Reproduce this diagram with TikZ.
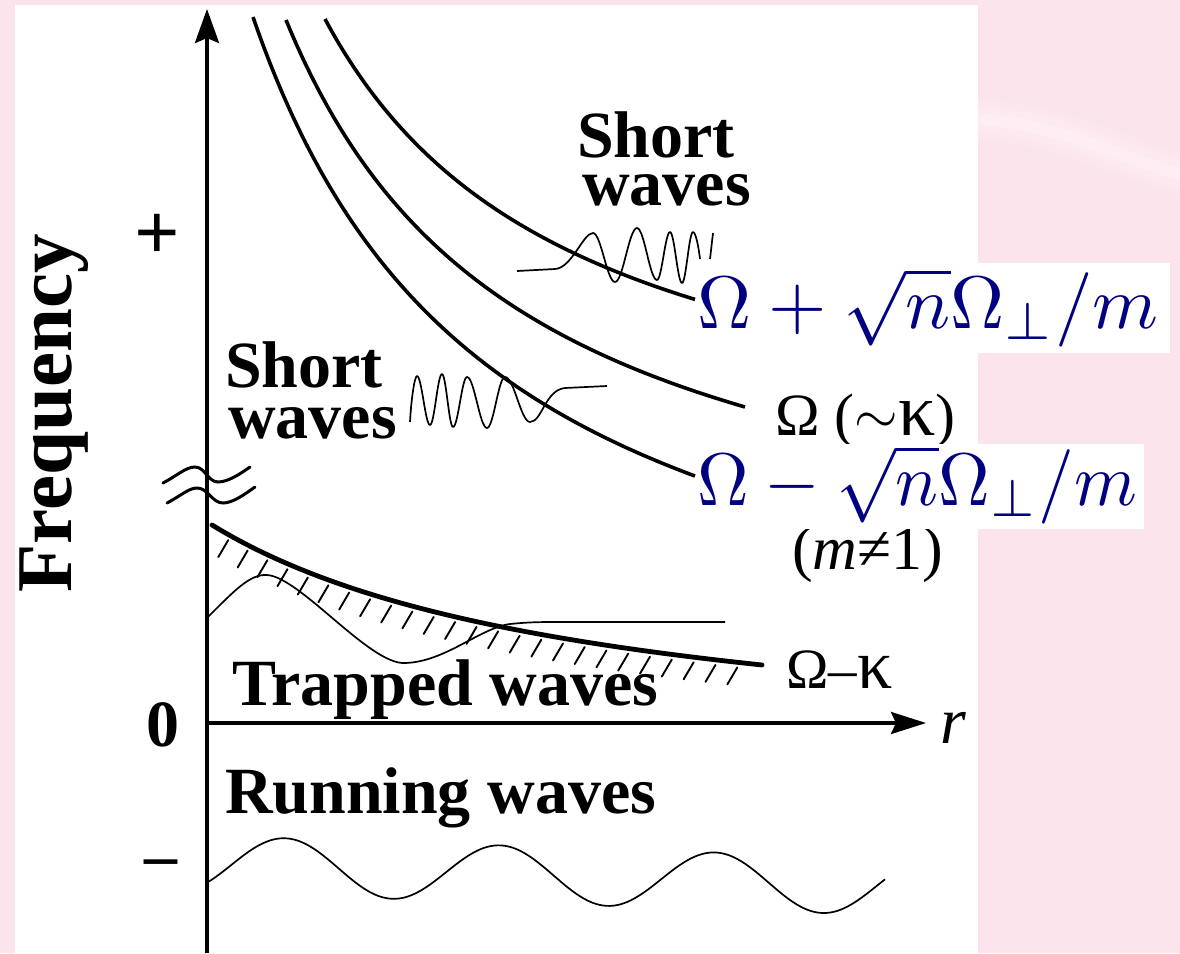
\documentclass[tikz,border=0pt]{standalone}
\usepackage{graphicx}
\usepackage{fontspec}
\setmainfont{Liberation Serif}
\usetikzlibrary{arrows.meta,decorations.markings}
\definecolor{pinkbg}{RGB}{252,228,236}
\definecolor{navyblue}{RGB}{0,0,128}
\tikzset{
  axisline/.style={line width=4pt},
  curveline/.style={line width=3.6pt},
  waveline/.style={line width=1.7pt, line join=round},
  breakline/.style={line width=3pt, line cap=round},
  boldlabel/.style={inner sep=0pt, font=\fontsize{66}{66}\selectfont\bfseries},
  plainlabel/.style={inner sep=0pt, font=\fontsize{60}{60}\selectfont},
  bluemath/.style={inner sep=0pt, text=navyblue},
  hatched/.style={postaction={decorate, decoration={markings,
     mark=between positions 20pt and -6pt step 22pt with {\pgftransformresetnontranslations
       \draw[line width=1.9pt] (-1,5) -- (-11,22);}}}},
}
\begin{document}
\begin{tikzpicture}[x=1pt,y=-1pt]
\useasboundingbox (0,0) rectangle (1180,953);
\fill[pinkbg] (0,0) rectangle (1180,953);
\foreach \w/\o in {40/0.12, 26/0.15, 12/0.2}{
  \draw[white, opacity=\o, line width=\w pt, line cap=round] (985,120) .. controls (1060,125) and (1110,155) .. (1200,180);}
\fill[white] (15,5) rectangle (978,953);
% three dispersion curves
\draw[curveline] plot[domain=253:695, samples=80, smooth] (\x, {732-1762.37/((\x-6.5)/100)});
\draw[curveline] plot[domain=286:745, samples=80, smooth] (\x, {611.2-1431.91/((\x-43.8)/100)});
\draw[curveline] plot[domain=325:695, samples=80, smooth] (\x, {491.6-1198.42/((\x-71.4)/100)});
% Omega - kappa curve with hatching
\draw[line width=4.8pt, line cap=round, hatched] plot[domain=212:762, samples=60, smooth] (\x, {764.5-936.52/((\x+179)/100)});
% axes
\coordinate (ybot) at (207,953);
\coordinate (ytop) at (207,9);
\coordinate (xleft) at (205,723);
\coordinate (xright) at (926,723);
\draw[axisline, -{Stealth[length=34pt, width=24pt, inset=5pt]}] (ybot) -- (ytop);
\draw[line width=3.6pt, -{Stealth[length=35pt, width=22pt, inset=5pt]}] (xleft) -- (xright);
% axis break
\draw[breakline] (163,483) .. controls (178,475) and (186,467) .. (195,467) .. controls (205,467) and (208,482) .. (218,482) .. controls (228,482) and (240,474) .. (250,467);
\draw[breakline] (167,503) .. controls (182,495) and (189,488) .. (197,488) .. controls (208,488) and (212,503) .. (223,503) .. controls (233,503) and (245,494) .. (255,487);
% upper short wave
\draw[waveline] (517,271) -- (555,269) .. controls (572,268) and (583,233) .. (593,233)
  .. controls +(8,0) and +(-8,0) .. (615,282)
  .. controls +(8,0) and +(-8,0) .. (637,228)
  .. controls +(7.3,0) and +(-7.3,0) .. (657,280)
  .. controls +(4.7,0) and +(-4.7,0) .. (670,232)
  .. controls +(4.4,0) and +(-4.4,0) .. (682,283)
  .. controls +(4,0) and +(-4,0) .. (693,232)
  .. controls (696,232) and (699,250) .. (700,259);
\draw[waveline] (710,259) -- (713,233);
% lower-left short wave
\draw[waveline] (410,422)
  .. controls +(1,-20) and +(-2.6,0) .. (417,376)
  .. controls +(4.7,0) and +(-4.7,0) .. (430,425)
  .. controls +(4.4,0) and +(-4.4,0) .. (442,374)
  .. controls +(4,0) and +(-4,0) .. (453,427)
  .. controls +(5.1,0) and +(-5.1,0) .. (467,377)
  .. controls +(7.3,0) and +(-7.3,0) .. (487,428)
  .. controls +(6.6,0) and +(-6.6,0) .. (505,377)
  .. controls +(9.1,0) and +(-9.1,0) .. (530,422)
  .. controls (542,422) and (545,390) .. (565,388) -- (607,386);
% trapped wave
\draw[waveline] (208,617) .. controls (235,590) and (250,574) .. (267,575)
  .. controls (300,577) and (370,665) .. (405,663)
  .. controls (445,662) and (480,628) .. (510,624)
  .. controls (530,622) and (540,622) .. (560,622) -- (725,622);
% running wave
\draw[waveline] plot[domain=209:885, samples=200, smooth] (\x, {868.5+0.033*(\x-338)-28.5*cos(1.67442*(\x-285))});
% labels
\node[boldlabel, anchor=base west] (sw1a) at (577,157) {Short};
\node[boldlabel, anchor=base west] (sw1b) at (582,205) {waves};
\node[boldlabel, anchor=base west] (sw2a) at (225,387) {Short};
\node[boldlabel, anchor=base west] (sw2b) at (228,438) {waves};
\node[boldlabel, anchor=base west] (trap) at (232,705) {Trapped waves};
\node[boldlabel, anchor=base west] (run) at (225,813) {Running waves};
\node[inner sep=0pt, font=\fontsize{79}{79}\selectfont\bfseries, rotate=90, anchor=base west] (freq) at (71,593) {Frequency};
\node[inner sep=0pt, font=\fontsize{80}{80}\selectfont\bfseries] (plus) at (157,237) {+};
\node[boldlabel] (zero) at (163,725) {0};
\node[boldlabel] (minus) at (161,869) {–};
\node[inner sep=0pt, font=\fontsize{66}{66}\selectfont\itshape, anchor=base west] (rlab) at (940,743) {r};
\node[plainlabel, anchor=base west] (omk) at (775,435) {Ω (\raisebox{2pt}{\scalebox{5.6}{\normalsize$\sim$}}{\fontsize{74}{74}\selectfont κ})};
\node[inner sep=0pt, font=\fontsize{62}{62}\selectfont, anchor=base west] (mne) at (792,569) {(\textit{m}≠1)};
\node[inner sep=0pt, font=\fontsize{57}{57}\selectfont, anchor=base west] (omm) at (786,688) {Ω–{\fontsize{70}{70}\selectfont κ}};
\fill[white] (696,263) rectangle (1170,353);
\fill[white] (696,444) rectangle (1144,529);
\node[bluemath, anchor=base west] (plusf) at (697,328) {\scalebox{7.5}[7.45]{$\Omega+\sqrt{n}\Omega_\perp/m$}};
\node[bluemath, anchor=base west] (minusf) at (697,505) {\scalebox{7.15}[7.45]{$\Omega-\sqrt{n}\Omega_\perp/m$}};
\end{tikzpicture}
\end{document}
